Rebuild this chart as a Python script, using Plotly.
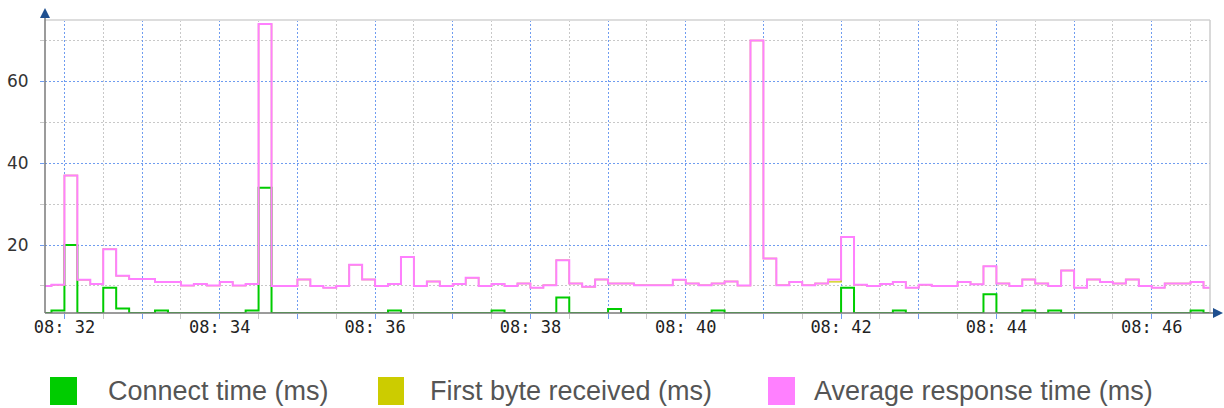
import numpy as np
import pandas as pd
import plotly.graph_objects as go

# ---- data: 10-second samples starting 08:31:40 ----
DAY = "2024-05-14"
SAMPLE_START = f"{DAY} 08:31:40"
SAMPLE_SECONDS = 10

avg_response = [
    10.0, 10.3,                                  # 08:31
    37.0, 11.5, 10.5, 19.0, 12.5, 11.7,          # 08:32
    11.7, 11.0, 11.0, 10.1, 10.5, 10.1,          # 08:33
    11.0, 10.1, 10.5, 74.0, 10.0, 10.0,          # 08:34
    11.6, 10.0, 9.6, 10.0, 15.2, 11.6,           # 08:35
    10.0, 10.5, 17.1, 10.0, 11.1, 10.0,          # 08:36
    10.5, 12.0, 10.0, 10.5, 10.0, 10.6,          # 08:37
    9.6, 10.2, 16.3, 10.6, 9.8, 11.6,            # 08:38
    10.6, 10.6, 10.2, 10.2, 10.2, 11.5,          # 08:39
    10.6, 10.2, 10.6, 11.1, 10.1, 70.0,          # 08:40
    16.7, 10.2, 11.0, 10.2, 10.6, 11.6,          # 08:41
    22.0, 10.3, 10.0, 10.5, 11.0, 9.6,           # 08:42
    10.3, 10.0, 10.0, 11.0, 10.4, 14.8,          # 08:43
    10.6, 10.0, 11.6, 10.6, 10.0, 13.8,          # 08:44
    9.6, 11.6, 11.0, 10.6, 11.6, 10.0,           # 08:45
    9.6, 10.6, 10.6, 11.0, 9.6,                  # 08:46
]

first_byte = [
    10.0, 10.3,
    37.0, 11.5, 10.5, 19.0, 12.5, 11.7,
    11.7, 11.0, 11.0, 10.1, 10.5, 10.1,
    11.0, 10.1, 10.5, 74.0, 10.0, 10.0,
    11.6, 10.0, 9.6, 10.0, 15.2, 11.6,
    10.0, 10.5, 17.1, 10.0, 11.1, 10.0,
    10.5, 12.0, 10.0, 10.5, 10.0, 10.6,
    9.6, 10.2, 16.3, 10.6, 9.8, 11.6,
    10.6, 10.6, 10.2, 10.2, 10.2, 11.5,
    10.6, 10.2, 10.6, 11.1, 10.1, 70.0,
    16.7, 10.2, 11.0, 10.2, 10.6, 11.0,
    22.0, 10.3, 10.0, 10.5, 11.0, 9.6,
    10.3, 10.0, 10.0, 11.0, 10.4, 14.8,
    10.6, 10.0, 11.6, 10.6, 10.0, 13.8,
    9.6, 11.6, 11.0, 10.6, 11.6, 10.0,
    9.6, 10.6, 10.6, 11.0, 9.6,
]

connect_time = [
    0, 4,
    20, 0, 0, 9.6, 4.5, 0,
    0, 4, 0, 0, 0, 0,
    0, 0, 4, 34, 0, 0,
    0, 0, 0, 0, 0, 0,
    0, 4, 0, 0, 0, 0,
    0, 0, 0, 4, 0, 0,
    0, 0, 7.2, 0, 0, 0,
    4.4, 0, 0, 0, 0, 0,
    0, 0, 4, 0, 0, 0,
    0, 0, 0, 0, 0, 0,
    9.6, 0, 0, 0, 4, 0,
    0, 0, 0, 0, 0, 8,
    0, 0, 4, 0, 4, 0,
    0, 0, 0, 0, 0, 0,
    0, 0, 0, 4, 0,
]

series_names = ["Connect time (ms)", "First byte received (ms)", "Average response time (ms)"]
series_colors = ["#00cc00", "#cccc00", "#ff80ff"]
series_widths = [2, 1.4, 2]

x_tick_times = [f"{DAY} 08:{m:02d}:00" for m in range(32, 47)]
x_tick_labels = ["08: 32", "", "08: 34", "", "08: 36", "", "08: 38", "", "08: 40",
                 "", "08: 42", "", "08: 44", "", "08: 46"]
x_range = [f"{DAY} 08:31:45", f"{DAY} 08:46:45"]

y_ticks = [20, 40, 60]
y_tick_labels = ["20", "40", "60"]
y_minor_ticks = [10, 30, 50, 70]
y_range = [3.4, 75.0]

# ---- geometry of the figure (pixels) ----
W, H = 1224, 408
M_L, M_R, M_T, M_B = 45, 14, 20, 95
PW, PH = W - M_L - M_R, H - M_T - M_B

def px(xp):
    return (xp - M_L) / PW

def py(yp):
    return (H - M_B - yp) / PH

MAJOR_GRID = "#6f9cf0"
MINOR_GRID = "#c8c8c8"
AXIS_COLOR = "#7a7a7a"
ARROW_COLOR = "#1f4f8f"
GRID_DASH = "2px,2px"

# ---- build step series ----
n = len(avg_response)
times = pd.date_range(SAMPLE_START, periods=n + 1, freq=f"{SAMPLE_SECONDS}s")


def stepped(values):
    # each sample holds its value for the whole interval
    return list(values) + [values[-1]]


floor = y_range[0]
connect_drawn = np.maximum(np.asarray(connect_time, dtype=float), floor)

fig = go.Figure()
for name, color, width, vals in zip(series_names, series_colors, series_widths,
                                    [connect_drawn, first_byte, avg_response]):
    fig.add_trace(go.Scatter(
        x=times, y=stepped(vals), mode="lines", name=name,
        line=dict(color=color, width=width, shape="hv"),
        hoverinfo="skip", showlegend=False,
    ))

half_minutes = pd.date_range(f"{DAY} 08:31:30", f"{DAY} 08:47:00", freq="60s")

fig.update_xaxes(
    type="date", range=x_range, automargin=False,
    tickmode="array", tickvals=x_tick_times, ticktext=x_tick_labels,
    ticks="outside", ticklen=5, tickcolor=MAJOR_GRID, tickwidth=1,
    tickfont=dict(family="DejaVu Sans Mono", size=17, color="#222222"),
    ticklabelstandoff=-6,
    showgrid=True, gridcolor=MAJOR_GRID, griddash=GRID_DASH, gridwidth=1,
    minor=dict(tickmode="array", tickvals=list(half_minutes), showgrid=True,
               gridcolor=MINOR_GRID, griddash=GRID_DASH, gridwidth=1,
               ticks="outside", ticklen=5, tickcolor=MINOR_GRID),
    showline=False, zeroline=False, layer="below traces",
)
fig.update_yaxes(
    range=y_range, automargin=False,
    tickmode="array", tickvals=y_ticks, ticktext=y_tick_labels,
    ticks="outside", ticklen=4, tickcolor=MAJOR_GRID,
    tickfont=dict(family="DejaVu Sans", size=17, color="#333333"),
    ticklabelstandoff=8,
    showgrid=True, gridcolor=MAJOR_GRID, griddash=GRID_DASH, gridwidth=1,
    minor=dict(tickmode="array", tickvals=y_minor_ticks, showgrid=True,
               gridcolor=MINOR_GRID, griddash=GRID_DASH, gridwidth=1,
               ticks="outside", ticklen=4, tickcolor=MINOR_GRID),
    showline=False, zeroline=False, layer="below traces",
)

shapes = [
    # frame top and right edges
    dict(type="line", xref="paper", yref="paper", x0=0, x1=1, y0=1, y1=1,
         line=dict(color="#dddddd", width=2)),
    dict(type="line", xref="paper", yref="paper", x0=1, x1=1, y0=0, y1=1,
         line=dict(color="#cccccc", width=1.5)),
    # axes with arrow heads
    dict(type="line", xref="paper", yref="paper", x0=0, x1=0, y0=0, y1=py(14),
         line=dict(color=AXIS_COLOR, width=1.5)),
    dict(type="line", xref="paper", yref="paper", x0=0, x1=px(1214), y0=0, y1=0,
         line=dict(color=AXIS_COLOR, width=1.5)),
    dict(type="path", xref="paper", yref="paper", fillcolor=ARROW_COLOR,
         line=dict(width=0),
         path=f"M {px(40)} {py(18)} L {px(50)} {py(18)} L {px(45)} {py(8)} Z"),
    dict(type="path", xref="paper", yref="paper", fillcolor=ARROW_COLOR,
         line=dict(width=0),
         path=f"M {px(1213)} {py(308)} L {px(1213)} {py(318)} L {px(1223)} {py(313)} Z"),
]

# legend: coloured squares followed by labels
legend_boxes = [(50, 77), (378, 404), (768, 795)]
legend_text_x = [106, 428, 812]
annotations = []
for (x0, x1), tx, name, color in zip(legend_boxes, legend_text_x, series_names, series_colors):
    shapes.append(dict(type="rect", xref="paper", yref="paper",
                       x0=px(x0), x1=px(x1), y0=py(377), y1=py(405),
                       fillcolor=color, line=dict(width=0)))
    annotations.append(dict(xref="paper", yref="paper", x=px(tx), y=py(391),
                            xanchor="left", yanchor="middle", showarrow=False,
                            text=name,
                            font=dict(family="Liberation Sans", size=27, color="#555555")))

fig.update_layout(
    width=W, height=H,
    margin=dict(l=M_L, r=M_R, t=M_T, b=M_B),
    plot_bgcolor="white", paper_bgcolor="white",
    showlegend=False, hovermode=False,
    shapes=shapes, annotations=annotations,
)

fig.write_html("out.html")
